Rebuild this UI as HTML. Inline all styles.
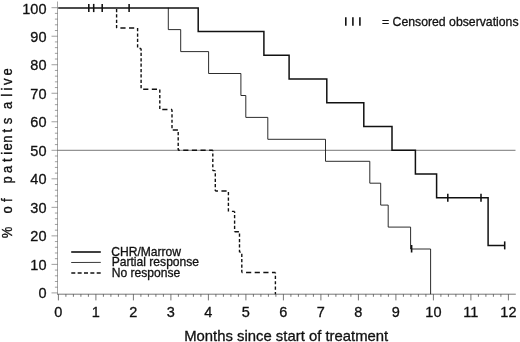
<!DOCTYPE html>
<html><head><meta charset="utf-8"><title>Survival</title>
<style>
html,body{margin:0;padding:0;background:#fff;}
body{width:520px;height:342px;overflow:hidden;position:relative;font-family:"Liberation Sans",sans-serif;color:#111;}
svg{position:absolute;left:0;top:0;display:block;filter:grayscale(1);}
text{font-family:"Liberation Sans",sans-serif;fill:#111;stroke:#111;stroke-width:0.3px;}
</style></head><body>
<svg width="520" height="342" viewBox="0 0 520 342">

<line x1="57.5" y1="1.5" x2="57.5" y2="294.2" stroke="#a6a6a6" stroke-width="1"/>
<line x1="57" y1="294.2" x2="515.8" y2="294.2" stroke="#777" stroke-width="1"/>
<g stroke="#777" stroke-width="0.7" fill="none">
<line x1="51.50" y1="292.90" x2="57.8" y2="292.90"/>
<line x1="54.90" y1="287.20" x2="57.8" y2="287.20"/>
<line x1="54.90" y1="281.49" x2="57.8" y2="281.49"/>
<line x1="54.90" y1="275.79" x2="57.8" y2="275.79"/>
<line x1="54.90" y1="270.08" x2="57.8" y2="270.08"/>
<line x1="51.50" y1="264.38" x2="57.8" y2="264.38"/>
<line x1="54.90" y1="258.68" x2="57.8" y2="258.68"/>
<line x1="54.90" y1="252.97" x2="57.8" y2="252.97"/>
<line x1="54.90" y1="247.27" x2="57.8" y2="247.27"/>
<line x1="54.90" y1="241.56" x2="57.8" y2="241.56"/>
<line x1="51.50" y1="235.86" x2="57.8" y2="235.86"/>
<line x1="54.90" y1="230.16" x2="57.8" y2="230.16"/>
<line x1="54.90" y1="224.45" x2="57.8" y2="224.45"/>
<line x1="54.90" y1="218.75" x2="57.8" y2="218.75"/>
<line x1="54.90" y1="213.04" x2="57.8" y2="213.04"/>
<line x1="51.50" y1="207.34" x2="57.8" y2="207.34"/>
<line x1="54.90" y1="201.64" x2="57.8" y2="201.64"/>
<line x1="54.90" y1="195.93" x2="57.8" y2="195.93"/>
<line x1="54.90" y1="190.23" x2="57.8" y2="190.23"/>
<line x1="54.90" y1="184.52" x2="57.8" y2="184.52"/>
<line x1="51.50" y1="178.82" x2="57.8" y2="178.82"/>
<line x1="54.90" y1="173.12" x2="57.8" y2="173.12"/>
<line x1="54.90" y1="167.41" x2="57.8" y2="167.41"/>
<line x1="54.90" y1="161.71" x2="57.8" y2="161.71"/>
<line x1="54.90" y1="156.00" x2="57.8" y2="156.00"/>
<line x1="51.50" y1="150.30" x2="57.8" y2="150.30"/>
<line x1="54.90" y1="144.60" x2="57.8" y2="144.60"/>
<line x1="54.90" y1="138.89" x2="57.8" y2="138.89"/>
<line x1="54.90" y1="133.19" x2="57.8" y2="133.19"/>
<line x1="54.90" y1="127.48" x2="57.8" y2="127.48"/>
<line x1="51.50" y1="121.78" x2="57.8" y2="121.78"/>
<line x1="54.90" y1="116.08" x2="57.8" y2="116.08"/>
<line x1="54.90" y1="110.37" x2="57.8" y2="110.37"/>
<line x1="54.90" y1="104.67" x2="57.8" y2="104.67"/>
<line x1="54.90" y1="98.96" x2="57.8" y2="98.96"/>
<line x1="51.50" y1="93.26" x2="57.8" y2="93.26"/>
<line x1="54.90" y1="87.56" x2="57.8" y2="87.56"/>
<line x1="54.90" y1="81.85" x2="57.8" y2="81.85"/>
<line x1="54.90" y1="76.15" x2="57.8" y2="76.15"/>
<line x1="54.90" y1="70.44" x2="57.8" y2="70.44"/>
<line x1="51.50" y1="64.74" x2="57.8" y2="64.74"/>
<line x1="54.90" y1="59.04" x2="57.8" y2="59.04"/>
<line x1="54.90" y1="53.33" x2="57.8" y2="53.33"/>
<line x1="54.90" y1="47.63" x2="57.8" y2="47.63"/>
<line x1="54.90" y1="41.92" x2="57.8" y2="41.92"/>
<line x1="51.50" y1="36.22" x2="57.8" y2="36.22"/>
<line x1="54.90" y1="30.52" x2="57.8" y2="30.52"/>
<line x1="54.90" y1="24.81" x2="57.8" y2="24.81"/>
<line x1="54.90" y1="19.11" x2="57.8" y2="19.11"/>
<line x1="54.90" y1="13.40" x2="57.8" y2="13.40"/>
<line x1="51.50" y1="7.70" x2="57.8" y2="7.70"/>
</g>
<g stroke="#4a4a4a" stroke-width="0.75" fill="none">
<line x1="58.40" y1="294.2" x2="58.40" y2="300.40"/>
<line x1="65.90" y1="294.2" x2="65.90" y2="296.80"/>
<line x1="73.40" y1="294.2" x2="73.40" y2="296.80"/>
<line x1="80.90" y1="294.2" x2="80.90" y2="296.80"/>
<line x1="88.40" y1="294.2" x2="88.40" y2="296.80"/>
<line x1="95.90" y1="294.2" x2="95.90" y2="300.40"/>
<line x1="103.40" y1="294.2" x2="103.40" y2="296.80"/>
<line x1="110.90" y1="294.2" x2="110.90" y2="296.80"/>
<line x1="118.40" y1="294.2" x2="118.40" y2="296.80"/>
<line x1="125.90" y1="294.2" x2="125.90" y2="296.80"/>
<line x1="133.40" y1="294.2" x2="133.40" y2="300.40"/>
<line x1="140.90" y1="294.2" x2="140.90" y2="296.80"/>
<line x1="148.40" y1="294.2" x2="148.40" y2="296.80"/>
<line x1="155.90" y1="294.2" x2="155.90" y2="296.80"/>
<line x1="163.40" y1="294.2" x2="163.40" y2="296.80"/>
<line x1="170.90" y1="294.2" x2="170.90" y2="300.40"/>
<line x1="178.40" y1="294.2" x2="178.40" y2="296.80"/>
<line x1="185.90" y1="294.2" x2="185.90" y2="296.80"/>
<line x1="193.40" y1="294.2" x2="193.40" y2="296.80"/>
<line x1="200.90" y1="294.2" x2="200.90" y2="296.80"/>
<line x1="208.40" y1="294.2" x2="208.40" y2="300.40"/>
<line x1="215.90" y1="294.2" x2="215.90" y2="296.80"/>
<line x1="223.40" y1="294.2" x2="223.40" y2="296.80"/>
<line x1="230.90" y1="294.2" x2="230.90" y2="296.80"/>
<line x1="238.40" y1="294.2" x2="238.40" y2="296.80"/>
<line x1="245.90" y1="294.2" x2="245.90" y2="300.40"/>
<line x1="253.40" y1="294.2" x2="253.40" y2="296.80"/>
<line x1="260.90" y1="294.2" x2="260.90" y2="296.80"/>
<line x1="268.40" y1="294.2" x2="268.40" y2="296.80"/>
<line x1="275.90" y1="294.2" x2="275.90" y2="296.80"/>
<line x1="283.40" y1="294.2" x2="283.40" y2="300.40"/>
<line x1="290.90" y1="294.2" x2="290.90" y2="296.80"/>
<line x1="298.40" y1="294.2" x2="298.40" y2="296.80"/>
<line x1="305.90" y1="294.2" x2="305.90" y2="296.80"/>
<line x1="313.40" y1="294.2" x2="313.40" y2="296.80"/>
<line x1="320.90" y1="294.2" x2="320.90" y2="300.40"/>
<line x1="328.40" y1="294.2" x2="328.40" y2="296.80"/>
<line x1="335.90" y1="294.2" x2="335.90" y2="296.80"/>
<line x1="343.40" y1="294.2" x2="343.40" y2="296.80"/>
<line x1="350.90" y1="294.2" x2="350.90" y2="296.80"/>
<line x1="358.40" y1="294.2" x2="358.40" y2="300.40"/>
<line x1="365.90" y1="294.2" x2="365.90" y2="296.80"/>
<line x1="373.40" y1="294.2" x2="373.40" y2="296.80"/>
<line x1="380.90" y1="294.2" x2="380.90" y2="296.80"/>
<line x1="388.40" y1="294.2" x2="388.40" y2="296.80"/>
<line x1="395.90" y1="294.2" x2="395.90" y2="300.40"/>
<line x1="403.40" y1="294.2" x2="403.40" y2="296.80"/>
<line x1="410.90" y1="294.2" x2="410.90" y2="296.80"/>
<line x1="418.40" y1="294.2" x2="418.40" y2="296.80"/>
<line x1="425.90" y1="294.2" x2="425.90" y2="296.80"/>
<line x1="433.40" y1="294.2" x2="433.40" y2="300.40"/>
<line x1="440.90" y1="294.2" x2="440.90" y2="296.80"/>
<line x1="448.40" y1="294.2" x2="448.40" y2="296.80"/>
<line x1="455.90" y1="294.2" x2="455.90" y2="296.80"/>
<line x1="463.40" y1="294.2" x2="463.40" y2="296.80"/>
<line x1="470.90" y1="294.2" x2="470.90" y2="300.40"/>
<line x1="478.40" y1="294.2" x2="478.40" y2="296.80"/>
<line x1="485.90" y1="294.2" x2="485.90" y2="296.80"/>
<line x1="493.40" y1="294.2" x2="493.40" y2="296.80"/>
<line x1="500.90" y1="294.2" x2="500.90" y2="296.80"/>
<line x1="508.40" y1="294.2" x2="508.40" y2="300.40"/>
</g>
<line x1="57.5" y1="150.30" x2="515.5" y2="150.30" stroke="#555" stroke-width="0.8"/>
<g font-size="14.5">
<text transform="translate(46.5,298.15) scale(1,1.04)" text-anchor="end">0</text>
<text transform="translate(46.5,269.69) scale(1,1.04)" text-anchor="end">10</text>
<text transform="translate(46.5,241.23) scale(1,1.04)" text-anchor="end">20</text>
<text transform="translate(46.5,212.77) scale(1,1.04)" text-anchor="end">30</text>
<text transform="translate(46.5,184.31) scale(1,1.04)" text-anchor="end">40</text>
<text transform="translate(46.5,155.85) scale(1,1.04)" text-anchor="end">50</text>
<text transform="translate(46.5,127.39) scale(1,1.04)" text-anchor="end">60</text>
<text transform="translate(46.5,98.93) scale(1,1.04)" text-anchor="end">70</text>
<text transform="translate(46.5,70.47) scale(1,1.04)" text-anchor="end">80</text>
<text transform="translate(46.5,42.01) scale(1,1.04)" text-anchor="end">90</text>
<text transform="translate(46.5,13.55) scale(1,1.04)" text-anchor="end">100</text>
<text x="58.40" y="317.1" text-anchor="middle">0</text>
<text x="95.90" y="317.1" text-anchor="middle">1</text>
<text x="133.40" y="317.1" text-anchor="middle">2</text>
<text x="170.90" y="317.1" text-anchor="middle">3</text>
<text x="208.40" y="317.1" text-anchor="middle">4</text>
<text x="245.90" y="317.1" text-anchor="middle">5</text>
<text x="283.40" y="317.1" text-anchor="middle">6</text>
<text x="320.90" y="317.1" text-anchor="middle">7</text>
<text x="358.40" y="317.1" text-anchor="middle">8</text>
<text x="395.90" y="317.1" text-anchor="middle">9</text>
<text x="433.40" y="317.1" text-anchor="middle">10</text>
<text x="470.90" y="317.1" text-anchor="middle">11</text>
<text x="508.40" y="317.1" text-anchor="middle">12</text>
</g>
<text x="184.2" y="340.5" font-size="14.3" textLength="204" lengthAdjust="spacingAndGlyphs">Months since start of treatment</text>
<g transform="translate(12.4,240.2) scale(1.17,1) rotate(-90)" font-size="13" text-anchor="middle">
<text x="7.7" y="0">%</text>
<text x="30.3" y="0">o</text>
<text x="40.1" y="0">f</text>
<text x="60.2" y="0">p</text>
<text x="70.9" y="0">a</text>
<text x="79.9" y="0">t</text>
<text x="86.9" y="0">i</text>
<text x="93.2" y="0">e</text>
<text x="101.0" y="0">n</text>
<text x="109.6" y="0">t</text>
<text x="119.2" y="0">s</text>
<text x="134.9" y="0">a</text>
<text x="145.0" y="0">l</text>
<text x="151.1" y="0">i</text>
<text x="158.4" y="0">v</text>
<text x="168.3" y="0">e</text>
</g>
<g stroke="#111" stroke-width="1.6">
<line x1="345.8" y1="17.3" x2="345.8" y2="25.8"/>
<line x1="352.9" y1="17.3" x2="352.9" y2="25.8"/>
<line x1="359.9" y1="17.3" x2="359.9" y2="25.8"/>
</g>
<text x="382" y="25.7" font-size="12.25">= Censored observations</text>
<line x1="71.2" y1="252.0" x2="100.8" y2="252.0" stroke="#111" stroke-width="1.6"/>
<line x1="71.2" y1="262.5" x2="100.8" y2="262.4" stroke="#222" stroke-width="0.9"/>
<line x1="71.3" y1="273.0" x2="100.8" y2="273.0" stroke="#111" stroke-width="1.6" stroke-dasharray="4,2.35"/>
<g font-size="12.1">
<text x="111.2" y="256.4">CHR/Marrow</text>
<text x="111.7" y="266.3">Partial response</text>
<text x="111.7" y="277.0">No response</text>
</g>
<path d="M116.60,8.92L116.60,12.14 M116.60,14.30L116.60,17.52 M116.60,19.68L116.60,22.90 M116.60,25.06L116.60,28.07 M116.60,28.07L116.94,28.07 M116.94,28.07L116.94,28.07 M120.39,28.07L125.57,28.07 M125.57,28.07L125.57,28.07 M129.02,28.07L134.20,28.07 M134.20,28.07L134.20,28.07 M137.60,28.10L137.60,31.33 M137.60,31.33L137.60,31.33 M137.60,33.48L137.60,36.71 M137.60,36.71L137.60,36.71 M137.60,38.86L137.60,42.09 M137.60,42.09L137.60,42.09 M137.60,44.24L137.60,47.47 M137.60,47.47L137.60,47.47 M139.50,48.44L141.10,48.44 M141.10,48.44L141.10,50.67 M141.10,50.67L141.10,50.67 M141.10,52.82L141.10,56.05 M141.10,56.05L141.10,56.05 M141.10,58.20L141.10,61.43 M141.10,61.43L141.10,61.43 M141.10,63.58L141.10,66.81 M141.10,66.81L141.10,66.81 M141.10,68.96L141.10,72.19 M141.10,72.19L141.10,72.19 M141.10,74.34L141.10,77.57 M141.10,79.72L141.10,82.95 M141.10,85.10L141.10,88.33 M143.18,89.19L148.36,89.19 M151.81,89.19L156.99,89.19 M159.80,89.58L159.80,92.81 M159.80,94.96L159.80,98.19 M159.80,100.34L159.80,103.57 M159.80,105.72L159.80,108.95 M162.28,109.56L167.46,109.56 M170.91,109.56L172.00,109.56 M172.00,109.56L172.00,112.11 M172.00,114.26L172.00,117.49 M172.00,119.64L172.00,122.87 M172.00,125.02L172.00,128.25 M172.75,129.93L177.93,129.93 M178.20,131.91L178.20,135.14 M178.20,137.29L178.20,140.52 M178.20,142.67L178.20,145.90 M178.20,148.05L178.20,150.30 M178.20,150.30L179.78,150.30 M183.23,150.30L188.41,150.30 M191.86,150.30L197.04,150.30 M200.49,150.30L205.67,150.30 M209.12,150.30L212.80,150.30 M212.80,150.30L212.80,151.23 M212.80,153.38L212.80,156.61 M212.80,158.76L212.80,161.99 M212.80,164.14L212.80,167.37 M212.80,169.52L212.80,170.67 M212.80,170.67L215.30,170.67 M215.30,170.67L215.30,171.19 M215.30,173.35L215.30,176.57 M215.30,178.73L215.30,181.95 M215.30,184.11L215.30,187.33 M215.30,189.49L215.30,191.04 M215.30,191.04L217.98,191.04 M221.43,191.04L226.61,191.04 M228.40,192.08L228.40,195.31 M228.40,197.46L228.40,200.69 M228.40,202.84L228.40,206.07 M228.40,208.22L228.40,211.41 M228.40,211.41L228.45,211.41 M231.90,211.41L234.60,211.41 M234.60,211.41L234.60,212.96 M234.60,215.11L234.60,218.34 M234.60,220.49L234.60,223.72 M234.60,225.87L234.60,229.10 M234.60,231.25L234.60,231.79 M234.60,231.79L238.92,231.79 M239.50,233.58L239.50,236.81 M239.50,238.96L239.50,242.19 M239.50,244.34L239.50,247.57 M239.50,249.72L239.50,252.16 M239.50,252.16L240.77,252.16 M241.80,253.67L241.80,256.89 M241.80,259.05L241.80,262.27 M241.80,264.43L241.80,267.65 M241.80,269.81L241.80,272.53 M241.80,272.53L242.61,272.53 M242.61,272.53L242.61,272.53 M246.06,272.53L251.24,272.53 M251.24,272.53L251.24,272.53 M254.69,272.53L259.87,272.53 M259.87,272.53L259.87,272.53 M263.32,272.53L268.50,272.53 M268.50,272.53L268.50,272.53 M271.95,272.53L275.40,272.53 M275.40,272.53L275.40,273.61 M275.40,273.61L275.40,273.61 M275.40,275.76L275.40,278.99 M275.40,278.99L275.40,278.99 M275.40,281.14L275.40,284.37 M275.40,284.37L275.40,284.37 M275.40,286.52L275.40,289.75 M275.40,289.75L275.40,289.75 M275.40,291.90L275.40,294.20" fill="none" stroke="#111" stroke-width="1.4" stroke-linecap="butt"/>
<path d="M168.3,7.7 V29.6 H180.7 V51.6 H208.6 V73.5 H240.9 V95.5 H245.8 V117.4 H267.8 V139.3 H325.5 V161.3 H369.8 V183.2 H380.7 V205.1 H388.2 V227.1 H410.6 V249.0 H430.6 V294.2" fill="none" stroke="#151515" stroke-width="0.9"/>
<line x1="411.6" y1="245.0" x2="411.6" y2="252.5" stroke="#111" stroke-width="1.6"/>
<path d="M58.2,8.0 H198.2 V31.5 H263.9 V55.2 H289.1 V79.0 H326.8 V102.8 H363.8 V126.5 H392 V150.3 H415.4 V174.1 H436.6 V197.8 H488.1 V245.4 H504.7" fill="none" stroke="#111" stroke-width="1.5" stroke-linejoin="miter"/>
<g stroke="#111" stroke-width="1.55">
<line x1="88.8" y1="3.9" x2="88.8" y2="12.1"/>
<line x1="93.7" y1="3.9" x2="93.7" y2="12.1"/>
<line x1="102.2" y1="3.9" x2="102.2" y2="12.1"/>
<line x1="129.1" y1="3.9" x2="129.1" y2="12.1"/>
<line x1="447.8" y1="193.8" x2="447.8" y2="201.8"/>
<line x1="481" y1="193.8" x2="481" y2="201.8"/>
<line x1="504.7" y1="241.4" x2="504.7" y2="249.4"/>
</g>
</svg>
</body></html>
